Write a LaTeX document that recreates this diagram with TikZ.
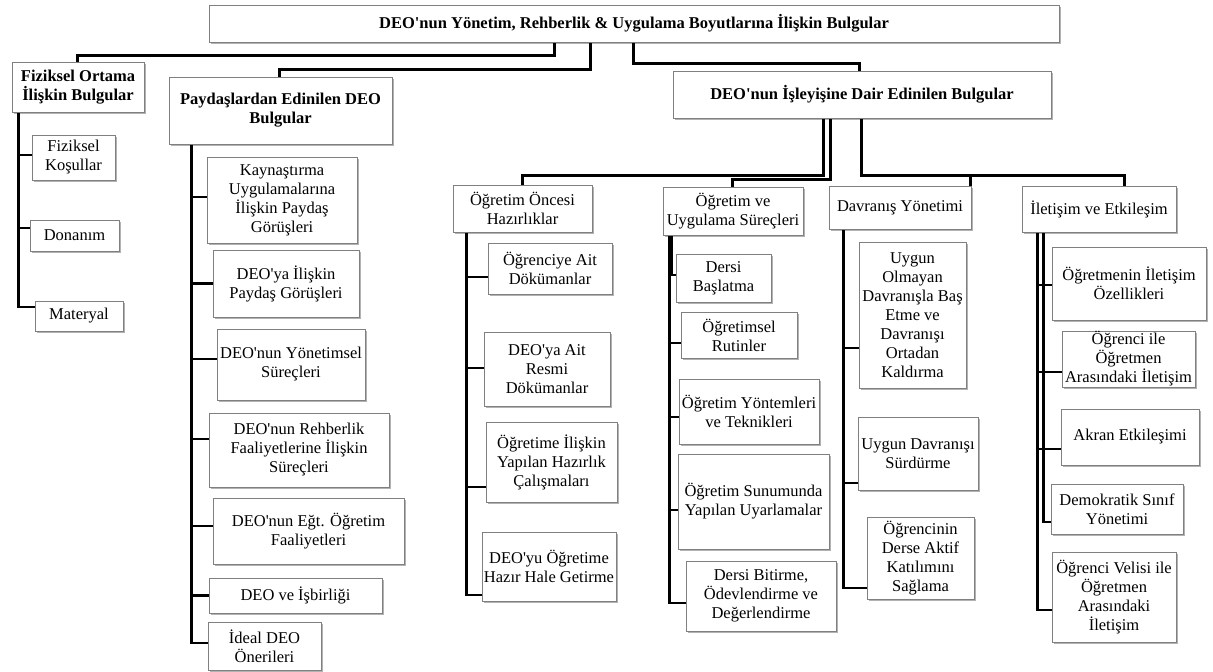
\documentclass[tikz,border=0pt]{standalone}
\usepackage{fontspec}
\setmainfont{Liberation Serif}
\usetikzlibrary{shadows}
\pgfdeclarelayer{bg}
\pgfsetlayers{bg,main}
\tikzset{
  box/.style={draw=black!50, line width=0.6pt, fill=white, inner sep=0pt, align=center,
    font=\fontsize{16.5}{19}\selectfont,
    drop shadow={shadow xshift=1.5pt, shadow yshift=-1.5pt, opacity=0.3, fill=black}},
  hbox/.style={box, font=\fontsize{16.5}{19}\selectfont\bfseries},
  conn/.style={line width=2.8pt, draw=black}
}
\newcommand\aq{\textquotesingle}
\newcommand\mybox[7][box]{%
  \pgfmathsetmacro\cx{(#3+#5)/2}\pgfmathsetmacro\cy{(#4+#6)/2}%
  \pgfmathsetmacro\bw{#5-#3}\pgfmathsetmacro\bh{#6-#4}%
  \node[#1, minimum width=\bw pt, minimum height=\bh pt] (#2) at (\cx,\cy) {#7};}
\begin{document}
\begin{tikzpicture}[x=1pt, y=-1pt]
\useasboundingbox (0,0) rectangle (1213,672);
% level 0/1
\mybox[hbox]{root}{209}{5}{1059}{42}{DEO\aq nun Yönetim, Rehberlik \& Uygulama Boyutlarına İlişkin Bulgular}
\mybox[hbox]{fo}{12}{62}{144}{112}{Fiziksel Ortama\\İlişkin Bulgular}
\mybox[hbox]{pd}{169}{77}{392}{144}{Paydaşlardan Edinilen DEO\\Bulgular}
\mybox[hbox]{is}{673}{71}{1051}{118}{DEO\aq nun İşleyişine Dair Edinilen Bulgular}
% fiziksel
\mybox{fk}{32}{135}{115}{180}{Fiziksel\\Koşullar}
\mybox{dn}{30}{220}{119}{251}{Donanım}
\mybox{mt}{35}{301}{123}{331}{Materyal}
% paydaslar
\mybox{p1}{207}{157}{357}{243}{Kaynaştırma\\Uygulamalarına\\İlişkin Paydaş\\Görüşleri}
\mybox{p2}{213}{250}{359}{317}{DEO\aq ya İlişkin\\Paydaş Görüşleri}
\mybox{p3}{217}{329}{365}{400}{DEO\aq nun Yönetimsel\\Süreçleri}
\mybox{p4}{209}{413}{389}{487}{DEO\aq nun Rehberlik\\Faaliyetlerine İlişkin\\Süreçleri}
\mybox{p5}{213}{498}{404}{564}{DEO\aq nun Eğt. Öğretim\\Faaliyetleri}
\mybox{p6}{209}{578}{382}{613}{DEO ve İşbirliği}
\mybox{p7}{208}{622}{321}{670}{İdeal DEO\\Önerileri}
% ogretim oncesi
\mybox{oo}{453}{185}{592}{232}{Öğretim Öncesi\\Hazırlıklar}
\mybox{o1}{488}{243}{612}{294}{Öğrenciye Ait\\Dökümanlar}
\mybox{o2}{484}{332}{610}{406}{DEO\aq ya Ait\\Resmi\\Dökümanlar}
\mybox{o3}{486}{422}{617}{502}{Öğretime İlişkin\\Yapılan Hazırlık\\Çalışmaları}
\mybox{o4}{482}{532}{616}{601}{DEO\aq yu Öğretime\\Hazır Hale Getirme}
% ogretim ve uygulama
\mybox{ov}{663}{187}{803}{235}{Öğretim ve\\Uygulama Süreçleri}
\mybox{v1}{676}{254}{771}{302}{Dersi\\Başlatma}
\mybox{v2}{681}{312}{797}{358}{Öğretimsel\\Rutinler}
\mybox{v3}{679}{379}{819}{444}{Öğretim Yöntemleri\\ve Teknikleri}
\mybox{v4}{678}{454}{829}{549}{Öğretim Sunumunda\\Yapılan Uyarlamalar}
\mybox{v5}{686}{561}{836}{631}{Dersi Bitirme,\\Ödevlendirme ve\\Değerlendirme}
% davranis
\mybox{dy}{829}{186}{971}{229}{Davranış Yönetimi}
\mybox{d1}{859}{242}{966}{388}{Uygun\\Olmayan\\Davranışla Baş\\Etme ve\\Davranışı\\Ortadan\\Kaldırma}
\mybox{d2}{858}{417}{978}{490}{Uygun Davranışı\\Sürdürme}
\mybox{d3}{867}{517}{974}{599}{Öğrencinin\\Derse Aktif\\Katılımını\\Sağlama}
% iletisim
\mybox{ie}{1022}{186}{1176}{232}{İletişim ve Etkileşim}
\mybox{i1}{1052}{247}{1206}{320}{Öğretmenin İletişim\\Özellikleri}
\mybox{i2}{1062}{331}{1195}{387}{Öğrenci ile\\Öğretmen\\Arasındaki İletişim}
\mybox{i3}{1061}{409}{1199}{465}{Akran Etkileşimi}
\mybox{i4}{1051}{484}{1183}{534}{Demokratik Sınıf\\Yönetimi}
\mybox{i5}{1052}{552}{1176}{642}{Öğrenci Velisi ile\\Öğretmen\\Arasındaki\\İletişim}

\begin{pgfonlayer}{bg}
% root
\draw[conn] ([xshift=346pt]root.south west) -- ++(0,13) -| ([xshift=66pt]fo.north west);
\draw[conn] ([xshift=382pt]root.south west) -- ++(0,27) -| ([xshift=111pt]pd.north west);
\draw[conn] ([xshift=425pt]root.south west) -- ++(0,21) -| ([xshift=187pt]is.north west);
% isleyis
\draw[conn] ([xshift=151pt]is.south west) -- ++(0,57) -| ([xshift=70pt]oo.north west);
\draw[conn] ([xshift=158pt]is.south west) -- ++(0,61) -| ([xshift=70pt]ov.north west);
\draw[conn] ([xshift=189pt]is.south west) -- ++(0,57) -| ([xshift=103pt]ie.north west);
\draw[conn] ([xshift=189pt]is.south west) -- ++(0,57) -| ([xshift=142pt]dy.north west);
% fiziksel
\draw[conn] ([xshift=7pt]fo.south west) |- ([yshift=2.5pt]fk.west);
\draw[conn] ([xshift=7pt]fo.south west) |- ([yshift=7.5pt]dn.west);
\draw[conn] ([xshift=7pt]fo.south west) |- ([yshift=9pt]mt.west);
% paydaslar
\draw[conn] ([xshift=23pt]pd.south west) |- ([yshift=3pt]p1.west);
\draw[conn] ([xshift=23pt]pd.south west) |- (p2.west);
\draw[conn] ([xshift=23pt]pd.south west) |- ([yshift=5.5pt]p3.west);
\draw[conn] ([xshift=23pt]pd.south west) |- ([yshift=11pt]p4.west);
\draw[conn] ([xshift=23pt]pd.south west) |- ([yshift=5pt]p5.west);
\draw[conn] ([xshift=23pt]pd.south west) |- (p6.west);
\draw[conn] ([xshift=23pt]pd.south west) |- ([yshift=3pt]p7.west);
% ogretim oncesi
\draw[conn] ([xshift=14pt]oo.south west) |- ([yshift=-8.5pt]o1.west);
\draw[conn] ([xshift=14pt]oo.south west) |- ([yshift=1pt]o2.west);
\draw[conn] ([xshift=14pt]oo.south west) |- ([yshift=-25pt]o3.west);
\draw[conn] ([xshift=14pt]oo.south west) |- ([yshift=-28.5pt]o4.west);
% ogretim ve uygulama
\draw[conn] ([xshift=9pt]ov.south west) |- ([yshift=3pt]v1.west);
\draw[conn] ([xshift=7pt]ov.south west) |- ([yshift=-8pt]v2.west);
\draw[conn] ([xshift=7pt]ov.south west) |- ([yshift=-5.5pt]v3.west);
\draw[conn] ([xshift=7pt]ov.south west) |- ([yshift=-8.5pt]v4.west);
\draw[conn] ([xshift=7pt]ov.south west) |- ([yshift=-7pt]v5.west);
% davranis
\draw[conn] ([xshift=15pt]dy.south west) |- ([yshift=-33pt]d1.west);
\draw[conn] ([xshift=15pt]dy.south west) |- ([yshift=-29.5pt]d2.west);
\draw[conn] ([xshift=15pt]dy.south west) |- ([yshift=-30pt]d3.west);
% iletisim
\draw[conn] ([xshift=16pt]ie.south west) |- ([yshift=-1.5pt]i1.west);
\draw[conn] ([xshift=16pt]ie.south west) |- ([yshift=-13pt]i2.west);
\draw[conn] ([xshift=16pt]ie.south west) |- ([yshift=-12pt]i3.west);
\draw[conn] ([xshift=22pt]ie.south west) |- ([yshift=-13pt]i4.west);
\draw[conn] ([xshift=16pt]ie.south west) |- ([yshift=-13pt]i5.west);
\end{pgfonlayer}
\end{tikzpicture}
\end{document}
